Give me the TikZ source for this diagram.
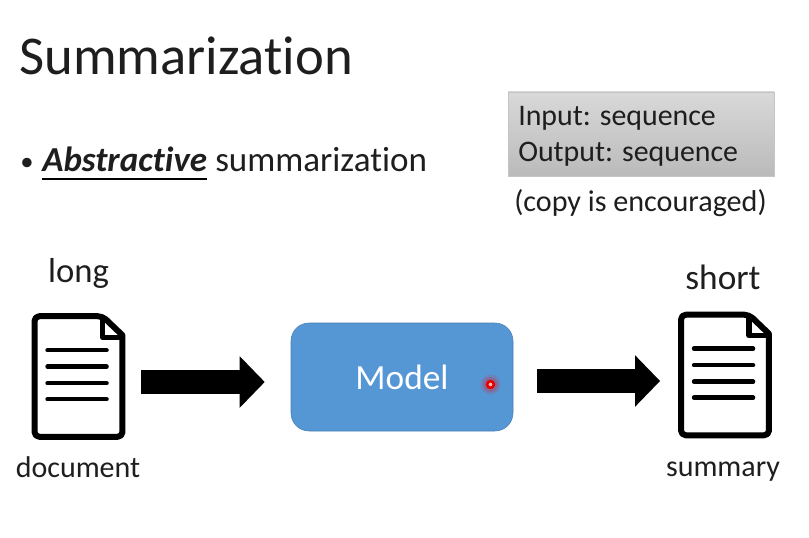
\documentclass[tikz,border=0pt]{standalone}
\usepackage{fontspec}
\setmainfont[Ligatures=NoCommon]{Carlito}
\usetikzlibrary{arrows.meta,calc}
\definecolor{modelblue}{HTML}{5597D5}
\definecolor{txt}{HTML}{1E1E1E}
\tikzset{
  x=0.75pt,y=-0.75pt,
  lbl/.style={inner sep=0pt,text=txt,anchor=base west},
  lblc/.style={inner sep=0pt,text=txt,anchor=base},
  docbox/.style={inner sep=0pt,minimum width=70pt,minimum height=94.5pt},
  docline/.style={line width=4.5pt*0.75,line cap=round,black},
  docedge/.style={line width=4.5pt,black,line join=round},
  blockarrow/.style={line width=18pt,black,-{Triangle[length=18.75pt,width=37.5pt]}},
  modelbox/.style={draw=modelblue!85!black,line width=.4pt,fill=modelblue,rounded corners=13.5pt,minimum width=166.5pt,minimum height=81pt,inner sep=0pt,text=white,font=\fontsize{26.5}{31}\selectfont},
  graybox/.style={inner sep=0pt,minimum width=199.5pt,minimum height=63pt,top color=black!15,bottom color=black!27,draw=black!23,line width=.4pt},
}
\newcommand{\docicon}[1]{%
  \draw[docedge,rounded corners=3.5pt] ($(#1.north west)+(3,3)$) -- ($(#1.north west)+(71,3)$) [sharp corners] -- ($(#1.north east)+(-3,22)$) [rounded corners=3.5pt] -- ($(#1.south east)+(-3,-3)$) -- ($(#1.south west)+(3,-3)$) -- cycle;
  \draw[docedge,line width=4pt] ($(#1.north west)+(71,3)$) -- ($(#1.north west)+(71,24)$) -- ($(#1.north east)+(-3,24)$);
  \foreach \ly in {37,53.5,70,86}{\draw[docline] ($(#1.north west)+(16,\ly)$) -- ($(#1.north west)+(75,\ly)$);}
}
\begin{document}
\begin{tikzpicture}
\useasboundingbox[fill=white] (0,0) rectangle (809,538);
\node[lbl,font=\fontsize{41}{49}\selectfont] (title) at (19,75) {Summarization};
\node[lbl,font=\fontsize{20}{24}\selectfont] (bullet) at (20,171) {•};
\node[lbl,font=\fontsize{26.3}{31}\selectfont\bfseries\itshape] (abs) at (42,172) {Abstractive};
\node[lbl,font=\fontsize{26.3}{31}\selectfont] (sumword) at (215,172) {summarization};
\draw[line width=1.5pt,black] ($(abs.base west)+(0,7.5)$) -- ($(abs.base east)+(0,7.5)$);
\node[graybox] (info) at (641,134) {};
\node[lbl,font=\fontsize{22.4}{27}\selectfont] (inp) at (518,126) {Input: sequence};
\node[lbl,font=\fontsize{22.4}{27}\selectfont] (outp) at (518,162) {Output: sequence};
\node[lbl,font=\fontsize{22.6}{27}\selectfont] (copy) at (514,212) {(copy is encouraged)};
\node[lblc,font=\fontsize{26}{31}\selectfont] (long) at (78.5,282) {long};
\node[lblc,font=\fontsize{26.5}{32}\selectfont] (short) at (723,289) {short};
\node[docbox] (doc1) at (78.5,376.5) {};
\node[docbox] (doc2) at (725,375) {};
\docicon{doc1}
\docicon{doc2}
\node[lblc,font=\fontsize{22.5}{27}\selectfont] (document) at (78,477) {document};
\node[lblc,font=\fontsize{22.5}{27}\selectfont] (summary) at (723,476) {summary};
\node[modelbox] (model) at (402,377) {Model};
\draw[blockarrow] ($(doc1.east)+(16,5.5)$) -- ($(model.west)+(-26,5)$);
\draw[blockarrow] ($(model.east)+(24,4)$) -- ($(doc2.west)+(-18,6)$);
\fill[red,opacity=.12] (490.5,384.5) circle (10);
\fill[red,opacity=.2] (490.5,384.5) circle (7.5);
\draw[red!90!black,line width=1.9pt,fill=white!70!red] (490.5,384.5) circle (3.4);
\end{tikzpicture}
\end{document}
